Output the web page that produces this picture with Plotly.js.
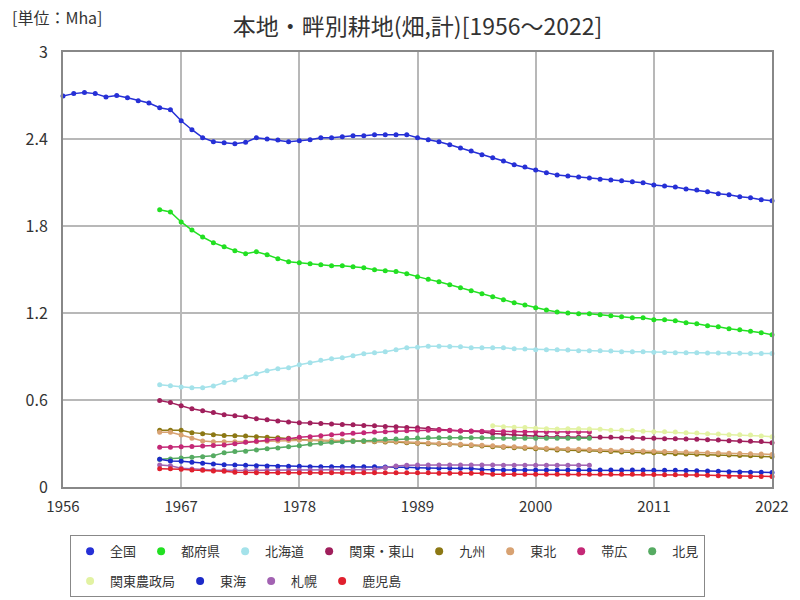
<!DOCTYPE html>
<html>
<head>
<meta charset="utf-8">
<script src="https://cdn.plot.ly/plotly-3.0.1.min.js"></script>
<style>
  body { margin: 0; background: #fff; }
  #graphs-div { width: 800px; height: 600px; }
</style>
</head>
<body>
<div id="graphs-div"></div>
<script>
// years for each group of series
function yearRange(a, b) {
    let out = [];
    for (let yr = a; yr <= b; yr++) out.push(yr);
    return out;
}
const yearsAll = yearRange(1956, 2022);
const years65 = yearRange(1965, 2022);
const years65to05 = yearRange(1965, 2005);
const years96 = yearRange(1996, 2022);

const xTicks = [1956, 1967, 1978, 1989, 2000, 2011, 2022];
const yTicks = [0, 0.6, 1.2, 1.8, 2.4, 3];
const yTickText = ['0', '0.6', '1.2', '1.8', '2.4', '3'];

// values in Mha
const zenkoku = [
    2.697, 2.713, 2.72, 2.713, 2.69, 2.70, 2.685, 2.664, 2.648, 2.616,
    2.602, 2.526, 2.464, 2.409, 2.381, 2.374, 2.368, 2.377, 2.409, 2.40,
    2.393, 2.381, 2.388, 2.395, 2.409, 2.409, 2.416, 2.423, 2.423, 2.43,
    2.43, 2.43, 2.43, 2.409, 2.395, 2.381, 2.36, 2.338, 2.317, 2.292,
    2.271, 2.248, 2.223, 2.207, 2.186, 2.168, 2.152, 2.145, 2.138, 2.131,
    2.122, 2.117, 2.112, 2.106, 2.099, 2.083, 2.076, 2.069, 2.055, 2.048,
    2.037, 2.023, 2.016, 2.002, 1.995, 1.981, 1.974
];
const tofuken = [
    1.912, 1.897, 1.828, 1.772, 1.724, 1.685, 1.657, 1.63, 1.609, 1.623,
    1.602, 1.575, 1.554, 1.547, 1.54, 1.533, 1.526, 1.526, 1.519, 1.512,
    1.499, 1.492, 1.487, 1.471, 1.45, 1.432, 1.416, 1.395, 1.374, 1.354,
    1.333, 1.312, 1.292, 1.271, 1.255, 1.237, 1.221, 1.207, 1.2, 1.195,
    1.195, 1.188, 1.181, 1.174, 1.168, 1.168, 1.154, 1.154, 1.147, 1.133,
    1.126, 1.112, 1.105, 1.092, 1.085, 1.074, 1.064, 1.05
];
const hokkaido = [
    0.706, 0.699, 0.69, 0.685, 0.685, 0.697, 0.72, 0.738, 0.759, 0.781,
    0.802, 0.816, 0.823, 0.843, 0.857, 0.874, 0.885, 0.892, 0.906, 0.919,
    0.926, 0.933, 0.947, 0.961, 0.963, 0.97, 0.97, 0.969, 0.968, 0.961,
    0.961, 0.961, 0.96, 0.954, 0.952, 0.947, 0.947, 0.947, 0.945, 0.94,
    0.94, 0.94, 0.938, 0.933, 0.933, 0.933, 0.93, 0.928, 0.926, 0.926,
    0.926, 0.924, 0.924, 0.922, 0.922, 0.921, 0.921, 0.92
];
const kantoTozan = [
    0.597, 0.582, 0.561, 0.539, 0.526, 0.513, 0.499, 0.492, 0.485, 0.47,
    0.463, 0.455, 0.448, 0.443, 0.441, 0.438, 0.435, 0.431, 0.429, 0.424,
    0.422, 0.418, 0.416, 0.41, 0.408, 0.403, 0.396, 0.391, 0.387, 0.384,
    0.381, 0.369, 0.364, 0.359, 0.354, 0.35, 0.347, 0.345, 0.345, 0.345,
    0.345, 0.343, 0.343, 0.34, 0.34, 0.336, 0.336, 0.333, 0.332, 0.331,
    0.329, 0.326, 0.324, 0.319, 0.318, 0.316, 0.313, 0.306
];
const kyushu = [
    0.391, 0.391, 0.391, 0.375, 0.368, 0.361, 0.356, 0.354, 0.352, 0.347,
    0.343, 0.34, 0.336, 0.328, 0.322, 0.318, 0.317, 0.317, 0.316, 0.314,
    0.312, 0.311, 0.31, 0.306, 0.301, 0.299, 0.296, 0.294, 0.29, 0.287,
    0.283, 0.278, 0.275, 0.271, 0.268, 0.264, 0.261, 0.256, 0.253, 0.252,
    0.251, 0.248, 0.245, 0.241, 0.24, 0.239, 0.237, 0.232, 0.23, 0.228,
    0.226, 0.224, 0.222, 0.22, 0.217, 0.215, 0.212, 0.209
];
const tohoku = [
    0.377, 0.377, 0.359, 0.336, 0.317, 0.312, 0.312, 0.312, 0.312, 0.312,
    0.315, 0.318, 0.321, 0.324, 0.325, 0.323, 0.322, 0.321, 0.32, 0.318,
    0.316, 0.315, 0.313, 0.31, 0.306, 0.303, 0.3, 0.297, 0.294, 0.291,
    0.288, 0.284, 0.28, 0.277, 0.274, 0.271, 0.268, 0.264, 0.262, 0.26,
    0.258, 0.256, 0.254, 0.252, 0.25, 0.249, 0.247, 0.245, 0.243, 0.241,
    0.239, 0.237, 0.235, 0.233, 0.231, 0.229, 0.227, 0.225
];
const obihiro = [
    0.274, 0.274, 0.278, 0.28, 0.283, 0.287, 0.29, 0.299, 0.308, 0.315,
    0.322, 0.329, 0.333, 0.343, 0.347, 0.354, 0.361, 0.366, 0.37, 0.375,
    0.379, 0.381, 0.384, 0.388, 0.391, 0.391, 0.392, 0.39, 0.388, 0.386,
    0.385, 0.384, 0.383, 0.382, 0.381, 0.381, 0.38, 0.38, 0.379, 0.379,
    0.379
];
const kitami = [
    0.191, 0.193, 0.2, 0.205, 0.209, 0.216, 0.237, 0.244, 0.246, 0.255,
    0.264, 0.269, 0.278, 0.285, 0.294, 0.301, 0.308, 0.312, 0.316, 0.319,
    0.324, 0.329, 0.331, 0.336, 0.338, 0.34, 0.34, 0.34, 0.34, 0.34,
    0.34, 0.34, 0.336, 0.336, 0.336, 0.336, 0.336, 0.336, 0.336, 0.336,
    0.336
];
const kantoNoseikyoku = [
    0.423, 0.416, 0.412, 0.41, 0.405, 0.402, 0.4, 0.401, 0.401, 0.4,
    0.398, 0.391, 0.391, 0.389, 0.384, 0.381, 0.381, 0.38, 0.375, 0.372,
    0.368, 0.366, 0.361, 0.36, 0.358, 0.352, 0.347
];
const tokai = [
    0.191, 0.179, 0.177, 0.17, 0.163, 0.159, 0.154, 0.152, 0.15, 0.147,
    0.145, 0.143, 0.143, 0.143, 0.14, 0.14, 0.14, 0.14, 0.14, 0.14,
    0.14, 0.138, 0.138, 0.136, 0.133, 0.129, 0.129, 0.129, 0.129, 0.127,
    0.12, 0.117, 0.117, 0.117, 0.117, 0.117, 0.117, 0.117, 0.117, 0.117,
    0.117, 0.117, 0.117, 0.117, 0.117, 0.117, 0.115, 0.115, 0.115, 0.113,
    0.112, 0.11, 0.108, 0.106, 0.104, 0.102, 0.101, 0.1
];
const sapporo = [
    0.152, 0.147, 0.129, 0.124, 0.12, 0.117, 0.115, 0.113, 0.113, 0.115,
    0.115, 0.115, 0.115, 0.117, 0.117, 0.117, 0.117, 0.117, 0.117, 0.117,
    0.12, 0.133, 0.145, 0.15, 0.152, 0.152, 0.152, 0.152, 0.152, 0.152,
    0.152, 0.152, 0.15, 0.15, 0.15, 0.15, 0.15, 0.15, 0.15, 0.15,
    0.15
];
const kagoshima = [
    0.126, 0.126, 0.122, 0.117, 0.115, 0.11, 0.108, 0.101, 0.099, 0.099,
    0.099, 0.099, 0.099, 0.099, 0.099, 0.099, 0.099, 0.099, 0.099, 0.099,
    0.099, 0.099, 0.099, 0.099, 0.099, 0.099, 0.094, 0.094, 0.094, 0.094,
    0.094, 0.088, 0.088, 0.088, 0.088, 0.088, 0.088, 0.088, 0.088, 0.088,
    0.088, 0.088, 0.088, 0.088, 0.088, 0.088, 0.086, 0.085, 0.084, 0.083,
    0.082, 0.081, 0.078, 0.075, 0.073, 0.072, 0.072, 0.072
];

var data = [];

// one line trace per region, plus a marker-only entry for the legend
function addSeries(name, xs, ys, color) {
    data.push({
        x: xs,
        y: ys,
        name: name,
        legendgroup: name,
        showlegend: false,
        mode: 'lines+markers',
        type: 'scatter',
        line: { color: color, width: 1.5 },
        marker: { color: color, size: 5 },
        cliponaxis: false
    });
    data.push({
        x: [null],
        y: [null],
        name: name,
        legendgroup: name,
        mode: 'markers',
        type: 'scatter',
        marker: { color: color, size: 8 }
    });
}

addSeries('全国', yearsAll, zenkoku, '#2630d6');
addSeries('都府県', years65, tofuken, '#22e022');
addSeries('北海道', years65, hokkaido, '#a4e2ea');
addSeries('関東・東山', years65, kantoTozan, '#a01f5c');
addSeries('九州', years65, kyushu, '#8c7814');
addSeries('東北', years65, tohoku, '#d8a272');
addSeries('帯広', years65to05, obihiro, '#c42876');
addSeries('北見', years65to05, kitami, '#56ab62');
addSeries('関東農政局', years96, kantoNoseikyoku, '#e2f2a2');
addSeries('東海', years65, tokai, '#1c2ac8');
addSeries('札幌', years65to05, sapporo, '#a262b2');
addSeries('鹿児島', years65, kagoshima, '#e0202e');

var layout = {
    width: 800,
    height: 600,
    margin: { l: 63, r: 28, t: 52, b: 113 },
    paper_bgcolor: '#ffffff',
    plot_bgcolor: '#ffffff',
    font: { family: '"Noto Sans CJK JP", sans-serif', color: '#333333', size: 13 },
    title: {
        text: '本地・畔別耕地(畑,計)[1956～2022]',
        font: { size: 23, color: '#333333' },
        x: 0.5, xref: 'paper',
        y: 0.955, yref: 'container', yanchor: 'middle',
        automargin: false
    },
    xaxis: {
        range: [1956, 2022],
        tickvals: xTicks,
        ticks: '',
        ticklabelstandoff: 5,
        automargin: false,
        showgrid: true,
        gridcolor: '#b8b8b8',
        gridwidth: 1.5,
        zeroline: false,
        showline: true,
        linecolor: '#888888',
        linewidth: 2,
        mirror: true,
        tickfont: { size: 15 }
    },
    yaxis: {
        range: [0, 3],
        tickvals: yTicks,
        ticktext: yTickText,
        ticks: '',
        ticklabelstandoff: 10,
        automargin: false,
        showgrid: true,
        gridcolor: '#b8b8b8',
        gridwidth: 1.5,
        zeroline: false,
        showline: true,
        linecolor: '#888888',
        linewidth: 2,
        mirror: true,
        tickfont: { size: 16 }
    },
    legend: {
        orientation: 'h',
        x: 0.01, xanchor: 'left',
        y: 0.108, yref: 'container', yanchor: 'top',
        bordercolor: '#888888',
        borderwidth: 1,
        itemwidth: 30,
        font: { size: 13 }
    },
    annotations: [{
        text: '[単位：Mha]',
        xref: 'paper', yref: 'paper',
        x: -0.075, y: 1.08,
        xanchor: 'left', yanchor: 'middle',
        showarrow: false,
        font: { size: 16 }
    }],
    showlegend: true
};

Plotly.newPlot('graphs-div', data, layout, { displayModeBar: false });
</script>
</body>
</html>
